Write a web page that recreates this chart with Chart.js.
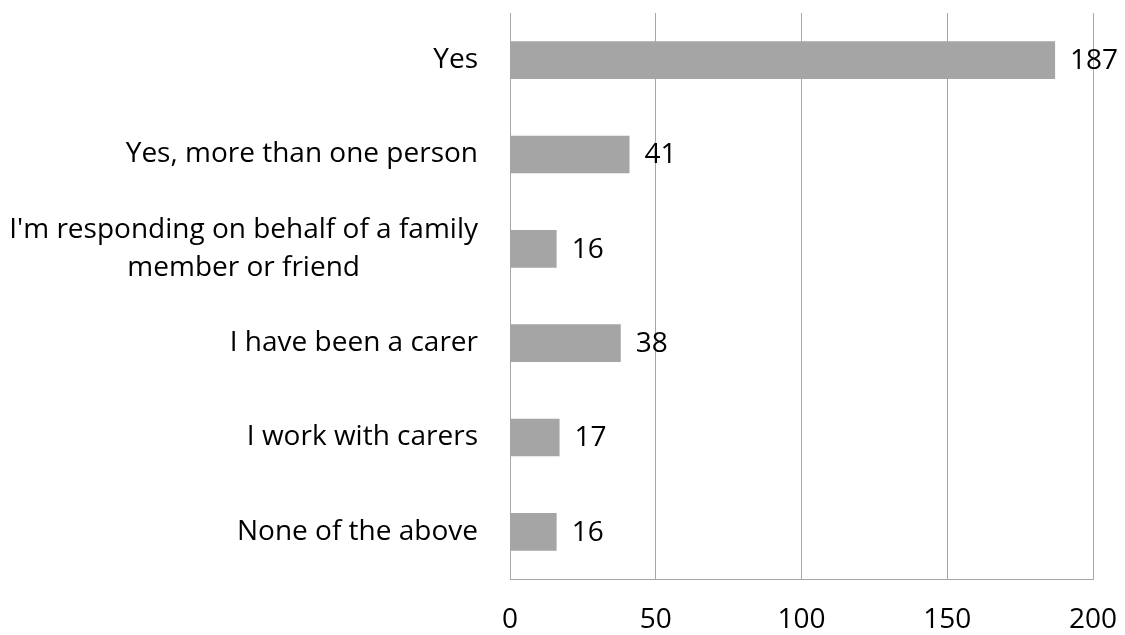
<!DOCTYPE html>
<html>
<head>
<meta charset="utf-8">
<script src="https://cdn.jsdelivr.net/npm/chart.js@4"></script>
<style>
  html, body { margin: 0; padding: 0; background: #ffffff; }
  #wrap { width: 1125px; height: 635px; position: relative; }
</style>
</head>
<body>
<div id="wrap"><canvas id="c"></canvas></div>
<script>
// Survey answers and response counts
const categories = [
  "Yes",
  "Yes, more than one person",
  ["I'm responding on behalf of a family", "member or friend"],
  "I have been a carer",
  "I work with carers",
  "None of the above"
];
const counts = [187, 41, 16, 38, 17, 16];
const axisMin = 0;
const axisMax = 200;
const axisStep = 50;

const FONT = "'Open Sans', Lato, sans-serif";
const FONT_SIZE = 28;
const LINE_GAP = 38;
const GRID = "#a6a6a6";

// Category names: right-aligned against the axis, wrapped lines centred on each other
const categoryLabels = {
  id: "categoryLabels",
  afterDraw(chart) {
    const ctx = chart.ctx;
    const yScale = chart.scales.y;
    const right = yScale.right - 32;
    ctx.save();
    ctx.font = FONT_SIZE + "px " + FONT;
    ctx.fillStyle = "#000000";
    ctx.textBaseline = "middle";
    ctx.textAlign = "center";
    categories.forEach((label, i) => {
      const lines = Array.isArray(label) ? label : [label];
      const widest = Math.max(...lines.map(l => ctx.measureText(l).width));
      const cx = right - widest / 2;
      const cy = yScale.getPixelForTick(i);
      const top = cy - (lines.length - 1) * LINE_GAP / 2;
      lines.forEach((line, k) => ctx.fillText(line, cx, top + k * LINE_GAP));
    });
    ctx.restore();
  }
};

// Writes each count just past the end of its bar
const valueLabels = {
  id: "valueLabels",
  afterDatasetsDraw(chart) {
    const ctx = chart.ctx;
    const meta = chart.getDatasetMeta(0);
    ctx.save();
    ctx.font = FONT_SIZE + "px " + FONT;
    ctx.fillStyle = "#000000";
    ctx.textAlign = "left";
    ctx.textBaseline = "middle";
    meta.data.forEach((bar, i) => {
      ctx.fillText(String(counts[i]), bar.x + 15, bar.y + 1);
    });
    ctx.restore();
  }
};

new Chart(document.getElementById("c"), {
  type: "bar",
  data: {
    labels: categories,
    datasets: [{
      data: counts,
      backgroundColor: "#a5a5a5",
      borderWidth: 0,
      categoryPercentage: 1,
      barPercentage: 0.4
    }]
  },
  options: {
    indexAxis: "y",
    responsive: true,
    maintainAspectRatio: false,
    animation: false,
    layout: { padding: { top: 13, right: 32, left: 0, bottom: 0 } },
    plugins: { legend: { display: false }, tooltip: { enabled: false } },
    scales: {
      x: {
        min: axisMin,
        max: axisMax,
        ticks: {
          stepSize: axisStep,
          color: "#000000",
          font: { family: FONT, size: FONT_SIZE },
          padding: 24
        },
        grid: { color: GRID, lineWidth: 1, drawTicks: false },
        border: { display: true, color: GRID, width: 1 },
        afterFit(scale) {
          scale.height = 56;
          scale.paddingLeft = 0;
          scale.paddingRight = 0;
        }
      },
      y: {
        ticks: { display: false },
        grid: { display: false, drawTicks: false },
        border: { display: true, color: GRID, width: 1 },
        afterFit(scale) {
          scale.width = 510;
          scale.paddingTop = 0;
          scale.paddingBottom = 0;
        }
      }
    }
  },
  plugins: [valueLabels, categoryLabels]
});
</script>
</body>
</html>
